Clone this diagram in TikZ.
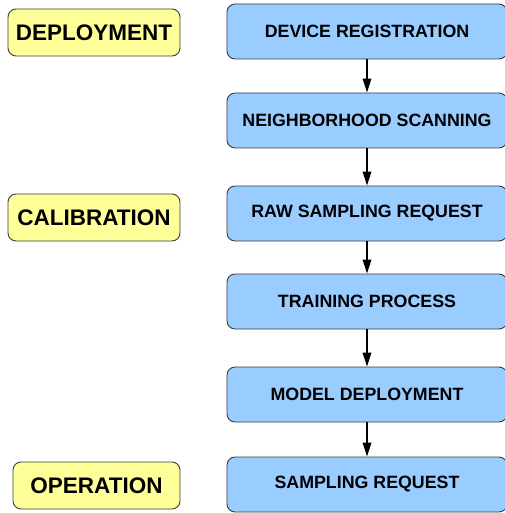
\documentclass[tikz,border=0pt]{standalone}
\usepackage{fontspec}
\setmainfont{Liberation Sans}
\usetikzlibrary{arrows.meta}
\definecolor{stepblue}{HTML}{99CCFF}
\definecolor{phaseyellow}{HTML}{FFFF99}
\definecolor{edgegray}{HTML}{3C3C3C}
\begin{document}
\begin{tikzpicture}[x=1pt,y=-1pt,
  stepbox/.style={draw=edgegray,line width=0.9pt,fill=stepblue,rounded corners=8pt,
    minimum width=280pt,minimum height=55pt,inner sep=0pt,
    font=\fontsize{17.8}{20}\selectfont\bfseries},
  phasebox/.style={draw=edgegray,line width=0.9pt,fill=phaseyellow,rounded corners=8pt,
    minimum height=47pt,inner sep=0pt,
    font=\fontsize{22.5}{25}\selectfont\bfseries},
  flow/.style={line width=2pt,-{Triangle[length=14pt,width=8.5pt]}}]
\useasboundingbox (0,0) rectangle (504,513);
\node[stepbox] (s1) at (367,31.5) {DEVICE REGISTRATION};
\node[stepbox] (s2) at (367,120.5) {NEIGHBORHOOD SCANNING};
\node[stepbox] (s3) at (367,213.5) {RAW SAMPLING REQUEST};
\node[stepbox] (s4) at (367,301.5) {TRAINING PROCESS};
\node[stepbox] (s5) at (367,394.5) {MODEL DEPLOYMENT};
\node[stepbox] (s6) at (367,484.5) {SAMPLING REQUEST};
\node[phasebox,minimum width=172pt] (p1) at (94,32.5) {DEPLOYMENT};
\node[phasebox,minimum width=172pt] (p2) at (94,217.5) {CALIBRATION};
\node[phasebox,minimum width=167pt] (p3) at (96.5,485.5) {OPERATION};
\draw[flow] (s1) -- (s2);
\draw[flow] (s2) -- (s3);
\draw[flow] (s3) -- (s4);
\draw[flow] (s4) -- (s5);
\draw[flow] (s5) -- (s6);
\end{tikzpicture}
\end{document}
